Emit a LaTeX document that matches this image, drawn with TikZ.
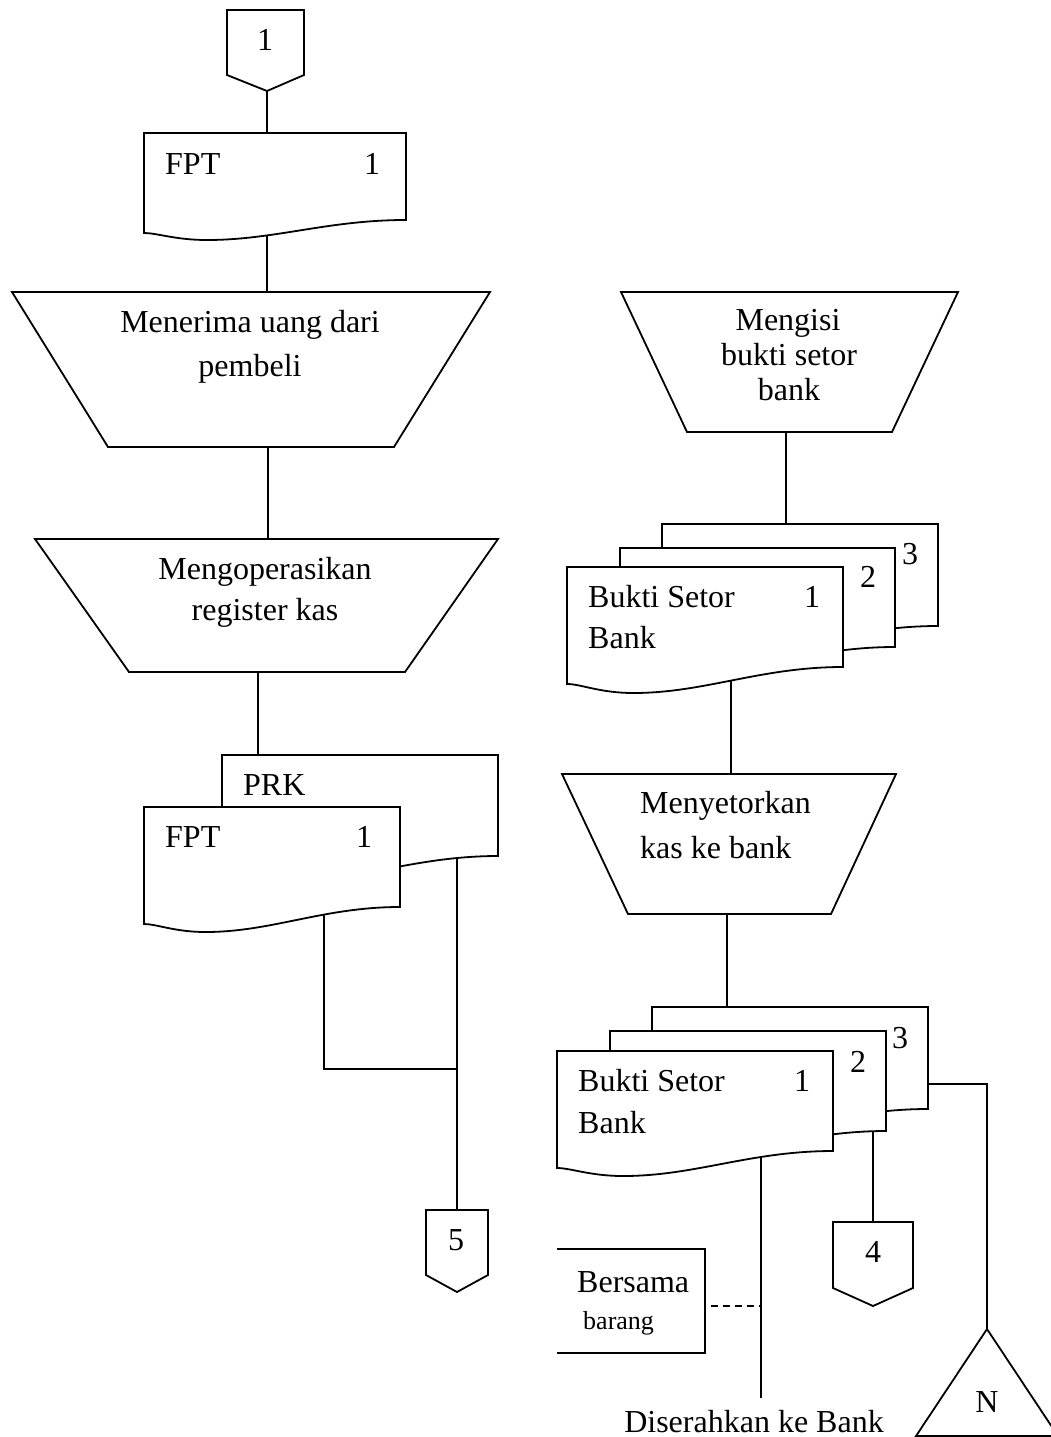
\documentclass[tikz,border=0pt]{standalone}
\usepackage{fontspec}
\setmainfont{Liberation Serif}
\tikzset{
  ln/.style={line width=2.1pt},
  shp/.style={draw, line width=1.8pt, fill=white, line join=miter},
  txt/.style={inner sep=0pt, font=\fontsize{32}{38}\selectfont},
  smalltxt/.style={inner sep=0pt, font=\fontsize{26}{30}\selectfont},
}
% document symbol: left, top, right, right-bottom, left-bottom, wave minimum
\newcommand\docshape[6]{%
  \pgfmathsetmacro\dW{#3-#1}%
  \pgfmathsetmacro\cA{#3-0.30*\dW}%
  \pgfmathsetmacro\cB{#1+0.50*\dW}%
  \pgfmathsetmacro\mX{#1+0.24*\dW}%
  \pgfmathsetmacro\cC{#1+0.12*\dW}%
  \pgfmathsetmacro\cD{#1+0.05*\dW}%
  \draw[shp] (#1,#2) -- (#3,#2) -- (#3,#4) .. controls (\cA,#4) and (\cB,#6) .. (\mX,#6)
     .. controls (\cC,#6) and (\cD,#5) .. (#1,#5) -- cycle;}
\begin{document}
\begin{tikzpicture}[x=1pt,y=-1pt]
\path[fill=white] (0,0) rectangle (1051,1437);
\useasboundingbox (0,0) rectangle (1051,1437);

% ---------- named connection points ----------
\coordinate (c1p) at (267,91);
\coordinate (fptAtop) at (267,133);
\coordinate (fptAin) at (267,200);
\coordinate (tr1top) at (267,292);
\coordinate (tr1bot) at (268,447);
\coordinate (tr2top) at (268,539);
\coordinate (tr2bot) at (258,672);
\coordinate (prktop) at (258,755);
\coordinate (fptBin) at (324,880);
\coordinate (jn1) at (324,1069);
\coordinate (jn2) at (457,1069);
\coordinate (prkin) at (457,840);
\coordinate (c5top) at (457,1210);
\coordinate (tr3bot) at (786,432);
\coordinate (s1top) at (786,524);
\coordinate (s1in) at (731,640);
\coordinate (tr4top) at (731,774);
\coordinate (tr4bot) at (727,914);
\coordinate (s2top) at (727,1007);
\coordinate (s2ain) at (761,1120);
\coordinate (bankend) at (761,1398);
\coordinate (dashA) at (711,1306);
\coordinate (dashB) at (761,1306);
\coordinate (s2bin) at (873,1120);
\coordinate (c4top) at (873,1222);
\coordinate (s2cright) at (928,1084);
\coordinate (jn3) at (987,1084);
\coordinate (triapex) at (987,1329);

% ---------- connectors ----------
\draw[ln] (c1p) -- (fptAtop);
\draw[ln] (fptAin) -- (tr1top);
\draw[ln] (tr1bot) -- (tr2top);
\draw[ln] (tr2bot) -- (prktop);
\draw[ln] (fptBin) -- (jn1) -- (jn2);
\draw[ln] (prkin) -- (c5top);
\draw[ln] (tr3bot) -- (s1top);
\draw[ln] (s1in) -- (tr4top);
\draw[ln] (tr4bot) -- (s2top);
\draw[ln] (s2ain) -- (bankend);
\draw[ln, dash pattern=on 7pt off 5pt] (dashA) -- (dashB);
\draw[ln] (s2bin) -- (c4top);
\draw[ln] (s2cright) -- (jn3) -- (triapex);

% ---------- shapes ----------
% off-page connector 1
\draw[shp] (227,10) -- (304,10) -- (304,75) -- (c1p) -- (227,75) -- cycle;
% FPT document
\docshape{144}{133}{406}{220}{233}{240}
% manual operations (trapezoids)
\draw[shp] (12,292) -- (490,292) -- (394,447) -- (108,447) -- cycle;
\draw[shp] (35,539) -- (498,539) -- (405,672) -- (129,672) -- cycle;
% PRK + FPT documents
\docshape{222}{755}{498}{856}{873}{881}
\docshape{144}{807}{400}{907}{924}{932}
% off-page connector 5
\draw[shp] (426,1210) -- (488,1210) -- (488,1275) -- (457,1292) -- (426,1275) -- cycle;

% right column
\draw[shp] (621,292) -- (958,292) -- (892,432) -- (687,432) -- cycle;
\docshape{662}{524}{938}{626}{643}{651}
\docshape{620}{548}{895}{647}{664}{672}
\docshape{567}{567}{843}{667}{684}{693}
\draw[shp] (562,774) -- (896,774) -- (831,914) -- (628,914) -- cycle;
\docshape{652}{1007}{928}{1109}{1126}{1134}
\docshape{610}{1031}{886}{1131}{1148}{1156}
\docshape{557}{1051}{833}{1151}{1168}{1176}
% off-page connector 4
\draw[shp] (833,1222) -- (913,1222) -- (913,1288) -- (873,1306) -- (833,1288) -- cycle;
% Bersama barang annotation box (open on the left)
\draw[ln] (557,1249) -- (705,1249) -- (705,1353) -- (557,1353);
% file triangle N
\draw[shp] (triapex) -- (1058,1436) -- (916,1436) -- cycle;

% ---------- texts ----------
\node[txt, anchor=base] (t1) at (265,51) {1};
\node[txt, anchor=base west] (tfptA) at (165,174) {FPT};
\node[txt, anchor=base] (tfptA1) at (372,174) {1};
\node[txt, anchor=base] (ttr1a) at (250,332) {Menerima uang dari};
\node[txt, anchor=base] (ttr1b) at (250,376) {pembeli};
\node[txt, anchor=base] (ttr2a) at (265,579) {Mengoperasikan};
\node[txt, anchor=base] (ttr2b) at (265,620) {register kas};
\node[txt, anchor=base west] (tprk) at (243,795) {PRK};
\node[txt, anchor=base west] (tfptB) at (165,847) {FPT};
\node[txt, anchor=base] (tfptB1) at (364,847) {1};
\node[txt, anchor=base] (t5) at (456,1250) {5};

\node[txt, anchor=base] (ttr3a) at (788,330) {Mengisi};
\node[txt, anchor=base] (ttr3b) at (789,365) {bukti setor};
\node[txt, anchor=base] (ttr3c) at (789,400) {bank};
\node[txt, anchor=base west] (ts1a) at (588,607) {Bukti Setor};
\node[txt, anchor=base west] (ts1b) at (588,648) {Bank};
\node[txt, anchor=base] (ts1n1) at (812,607) {1};
\node[txt, anchor=base] (ts1n2) at (868,587) {2};
\node[txt, anchor=base] (ts1n3) at (910,564) {3};
\node[txt, anchor=base west] (ttr4a) at (640,813) {Menyetorkan};
\node[txt, anchor=base west] (ttr4b) at (640,858) {kas ke bank};
\node[txt, anchor=base west] (ts2a) at (578,1091) {Bukti Setor};
\node[txt, anchor=base west] (ts2b) at (578,1133) {Bank};
\node[txt, anchor=base] (ts2n1) at (802,1091) {1};
\node[txt, anchor=base] (ts2n2) at (858,1072) {2};
\node[txt, anchor=base] (ts2n3) at (900,1048) {3};
\node[txt, anchor=base] (t4) at (873,1262) {4};
\node[txt, anchor=base west] (tbers) at (577,1292) {Bersama};
\node[smalltxt, anchor=base west] (tbar) at (583,1329) {barang};
\node[txt, anchor=base] (tdis) at (754,1432) {Diserahkan ke Bank};
\node[txt, anchor=base] (tN) at (987,1412) {N};
\end{tikzpicture}
\end{document}
